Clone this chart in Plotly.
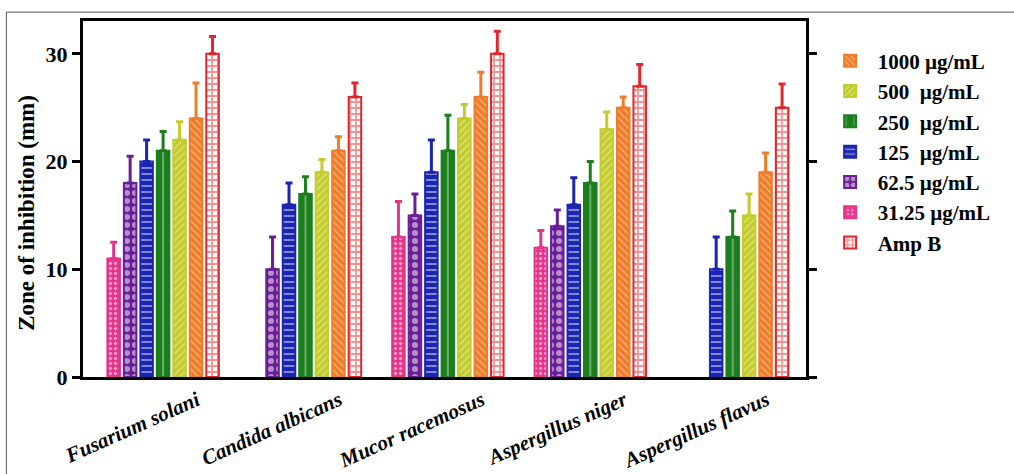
import plotly.graph_objects as go

# Fungal strains on the x axis
strains = ["Fusarium solani", "Candida albicans", "Mucor racemosus",
           "Aspergillus niger", "Aspergillus flavus"]

# Mean zone of inhibition (mm) and upper error per concentration
zone_31 = [11, None, 13, 12, None]
err_31 = [1.5, None, 3.3, 1.6, None]
zone_62 = [18, 10, 15, 14, None]
err_62 = [2.5, 3.0, 2.0, 1.5, None]
zone_125 = [20, 16, 19, 16, 10]
err_125 = [2.0, 2.0, 3.0, 2.5, 3.0]
zone_250 = [21, 17, 21, 18, 13]
err_250 = [1.8, 1.6, 3.3, 2.0, 2.4]
zone_500 = [22, 19, 24, 23, 15]
err_500 = [1.7, 1.2, 1.3, 1.6, 2.0]
zone_1000 = [24, 21, 26, 25, 19]
err_1000 = [3.3, 1.3, 2.3, 1.0, 1.8]
zone_ampb = [30, 26, 30, 27, 25]
err_ampb = [1.6, 1.3, 2.1, 2.0, 2.2]

y_ticks = [0, 10, 20, 30]

FONT = "Liberation Serif"

# (name, values, errors, colour, pattern, legend rank)
series = [
    ("31.25\u00a0µg/mL", zone_31, err_31, "#E5338C",
     dict(shape=".", fgcolor="white", bgcolor="#E5338C", size=5, solidity=0.35), 6),
    ("62.5\u00a0µg/mL", zone_62, err_62, "#6A1E96",
     dict(shape=".", fgcolor="white", bgcolor="#6A1E96", size=8, solidity=0.45), 5),
    ("125\u00a0\u00a0µg/mL", zone_125, err_125, "#1C25B0",
     dict(shape="-", fgcolor="white", bgcolor="#1C25B0", size=6, solidity=0.3), 4),
    ("250\u00a0\u00a0µg/mL", zone_250, err_250, "#1B7F1E",
     dict(shape="|", fgcolor="white", bgcolor="#1B7F1E", size=17.8, solidity=0.08), 3),
    ("500\u00a0\u00a0µg/mL", zone_500, err_500, "#C3CC2A",
     dict(shape="/", fgcolor="#F4F7C8", bgcolor="#C3CC2A", size=5, solidity=0.3), 2),
    ("1000\u00a0µg/mL", zone_1000, err_1000, "#EE7D2A",
     dict(shape="\\", fgcolor="#FBD9BC", bgcolor="#EE7D2A", size=5, solidity=0.3), 1),
    ("Amp B", zone_ampb, err_ampb, "#E3262A",
     dict(shape="+", fgcolor="#E3262A", bgcolor="white", size=6, solidity=0.5), 7),
]

fig = go.Figure()
for name, vals, errs, color, pattern, rank in series:
    fig.add_trace(go.Bar(
        name=name,
        x=strains,
        y=vals,
        legendrank=rank,
        marker=dict(color=color, pattern=pattern,
                    line=dict(color=color, width=2)),
        error_y=dict(type="data", symmetric=False, array=errs,
                     arrayminus=[0] * len(errs), color=color,
                     thickness=3, width=3.5),
    ))

# thin frame around the whole figure
fig.add_shape(type="rect", xref="paper", yref="paper",
              x0=-0.106, x1=1.3, y0=-0.4, y1=1.025,
              line=dict(color="#555555", width=1), layer="below")

# y-axis title
fig.add_annotation(text="Zone of inhibition (mm)", textangle=-90,
                   xref="paper", yref="paper", x=-0.078, y=0.46,
                   xanchor="center", yanchor="middle", showarrow=False,
                   font=dict(family=FONT, size=23, weight="bold"))

fig.update_layout(
    width=1014, height=474,
    margin=dict(l=83, r=208, t=21, b=97),
    paper_bgcolor="white", plot_bgcolor="white",
    barmode="group", bargap=0.19, bargroupgap=0.24,
    font=dict(family=FONT, color="black"),
    showlegend=True,
    legend=dict(x=1.023, y=0.945, xanchor="left", yanchor="top",
                font=dict(family=FONT, size=21, weight="bold"),
                itemwidth=45,
                bgcolor="rgba(0,0,0,0)", traceorder="normal"),
    xaxis=dict(
        range=[-0.5625, 4.515], automargin=False,
        showline=True, linecolor="black", linewidth=3, mirror=True,
        ticks="", showgrid=False, zeroline=False,
        tickangle=-24, ticklabelshift=34,
        tickfont=dict(family=FONT, size=21, weight="bold", style="italic"),
    ),
    yaxis=dict(
        range=[0, 33.05], tickvals=y_ticks, automargin=False,
        showline=True, linecolor="black", linewidth=3, mirror="ticks",
        ticks="outside", ticklen=8, tickwidth=3, tickcolor="black",
        showgrid=False, zeroline=False,
        tickfont=dict(family=FONT, size=22, weight="bold"),
    ),
)

fig.write_html("out.html")
